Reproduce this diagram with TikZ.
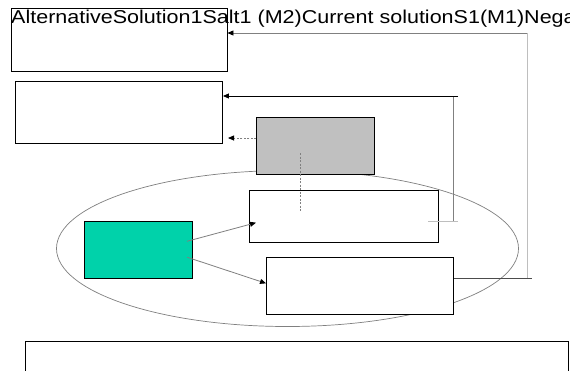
\documentclass[tikz,border=0pt]{standalone}
\usepackage{fontspec}
\newfontfamily\arialx[FakeStretch=1.157]{Liberation Sans}
\usetikzlibrary{arrows.meta,shapes.geometric,calc}
\definecolor{tealfill}{RGB}{0,210,170}
\definecolor{grayfill}{RGB}{192,192,192}
\definecolor{lgray}{RGB}{190,190,190}
\definecolor{mgray}{RGB}{128,128,128}
\tikzset{
  box/.style={draw=black, line width=0.9pt, fill=white, inner sep=0pt, rectangle},
  tip/.style={-{Triangle[length=6pt,width=5pt,color=black]}},
  conn/.style={mgray, line width=0.8pt},
  lconn/.style={lgray, line width=0.8pt},
  dconn/.style={black!70, line width=0.9pt},
  dashln/.style={mgray, line width=0.8pt, dash pattern=on 2pt off 1.5pt},
}
\begin{document}
\begin{tikzpicture}[x=1pt,y=-1pt]
\useasboundingbox (0,0) rectangle (570,370);
\fill[white] (0,0) rectangle (570,370);
% ellipse
\node[ellipse, draw=mgray, line width=0.7pt, minimum width=462pt, minimum height=156pt, inner sep=0pt] (E) at (287.5,248.5) {};
% boxes
\node[box, minimum width=216pt, minimum height=62.5pt] (A) at (119,39.75) {};
\node[box, minimum width=206.8pt, minimum height=62pt] (B) at (119.1,112) {};
\node[box, fill=grayfill, minimum width=118pt, minimum height=56.7pt] (G) at (315.7,145.65) {};
\node[box, minimum width=189.4pt, minimum height=52.3pt] (C) at (344,216.15) {};
\node[box, minimum width=187.4pt, minimum height=57pt] (D) at (360,286.2) {};
\node[box, fill=tealfill, minimum width=108.4pt, minimum height=57pt] (T) at (138.5,249.8) {};
\node[box, minimum width=543pt, minimum height=59pt] (F) at (297,370.5) {};
% text
\node[anchor=base west, inner sep=0pt, font=\arialx\fontsize{18.6}{20}\selectfont] (L) at (11,23) {AlternativeSolution1Salt1 (M2)Current solutionS1(M1)Nega};
% connector D -> A
\coordinate (p1) at (527,33);
\coordinate (p2) at (527,278);
\coordinate (p3) at (532,278);
\draw[dconn] (D.east |- p2) -- (p3);
\draw[lconn] (p2) -- (p1);
\draw[conn, tip] (p1) -- (A.east |- p1);
% connector C -> B
\coordinate (q1) at (428,221);
\coordinate (q2) at (458,221);
\coordinate (q3) at (453,221);
\coordinate (q4) at (453,96);
\coordinate (q5) at (458,96);
\draw[lconn] (q1) -- (q2);
\draw[conn, line width=1pt] (q3) -- (q4);
\draw[black, line width=0.9pt, tip] (q5) -- (B.east |- q5);
% dashed G -> B
\coordinate (g1) at (256.7,138);
\coordinate (g2) at (228,138);
\draw[dashln, tip] (G.west |- g1) -- (g2);
% dashed G -- C
\coordinate (g3) at (300.7,153);
\coordinate (g4) at (300.7,211);
\draw[dashln] (g3) -- (g4);
% teal -> C, D
\coordinate (t1) at (187,241.3);
\coordinate (t2) at (256,222.7);
\coordinate (t3) at (187.3,257.3);
\coordinate (t4) at (266,283.3);
\draw[conn, tip] (t1) -- (t2);
\draw[conn, tip] (t3) -- (t4);
\end{tikzpicture}
\end{document}
